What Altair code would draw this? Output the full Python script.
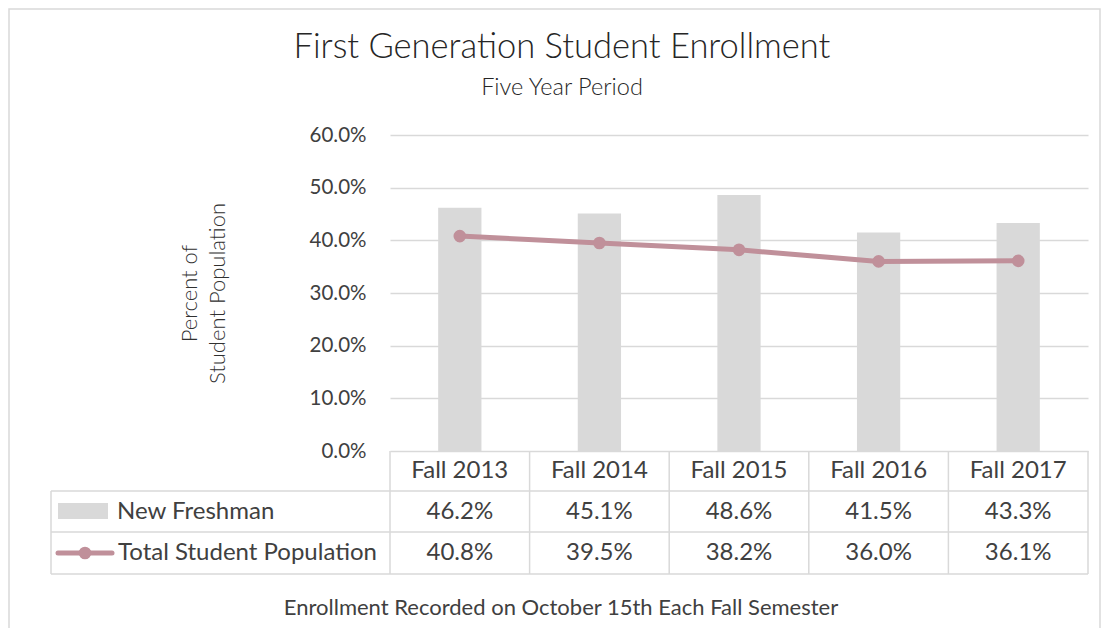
import altair as alt
import pandas as pd

years = ["Fall 2013", "Fall 2014", "Fall 2015", "Fall 2016", "Fall 2017"]
new_freshman = [46.2, 45.1, 48.6, 41.5, 43.3]
total_population = [40.8, 39.5, 38.2, 36.0, 36.1]
y_ticks = [0, 0.1, 0.2, 0.3, 0.4, 0.5, 0.6]

df = pd.DataFrame({
    "Year": years,
    "Freshman": [v / 100 for v in new_freshman],
    "Total": [v / 100 for v in total_population],
    "FreshmanLabel": [f"{v:.1f}%" for v in new_freshman],
    "TotalLabel": [f"{v:.1f}%" for v in total_population],
})
one = pd.DataFrame({"k": [0]})

FONT = "Lato"
TXT = "#404040"
GRID = "#D9D9D9"
BAR = "#D9D9D9"
LINE = "#C0909A"
W, H = 698, 316

x_enc = alt.X("Year:N", sort=years, axis=None,
              scale=alt.Scale(paddingInner=0, paddingOuter=0))

bars = alt.Chart(df).mark_bar(color=BAR, width=alt.RelativeBandSize(0.31)).encode(
    x=x_enc,
    y=alt.Y("Freshman:Q",
            scale=alt.Scale(domain=[0, 0.6], nice=False),
            axis=alt.Axis(values=y_ticks, format=".1%", grid=True, gridColor=GRID,
                          gridWidth=1.5, domain=False, ticks=False, labelPadding=24,
                          labelFontSize=20.5, labelFont=FONT, labelColor=TXT,
                          title=["Percent of", "Student Population"], titleFont=FONT,
                          titleFontSize=22, titleFontWeight=300, titleColor="#303030",
                          titleLineHeight=28, titlePadding=80)),
)

line = alt.Chart(df).mark_line(
    color=LINE, strokeWidth=5,
    point=alt.OverlayMarkDef(color=LINE, filled=True, size=160, opacity=1),
).encode(x=x_enc, y=alt.Y("Total:Q"))

# table grid lines
vlines = alt.Chart(df).mark_rule(color=GRID, strokeWidth=1.5).encode(
    x=alt.X("Year:N", sort=years, bandPosition=0, axis=None),
    y=alt.value(H), y2=alt.value(439),
)
right_line = alt.Chart(one).mark_rule(color=GRID, strokeWidth=1.5).encode(
    x=alt.value(W), y=alt.value(H), y2=alt.value(439))
left_line = alt.Chart(one).mark_rule(color=GRID, strokeWidth=1.5).encode(
    x=alt.value(-339), y=alt.value(356), y2=alt.value(439))
hlines = alt.layer(*[
    alt.Chart(one).mark_rule(color=GRID, strokeWidth=1.5).encode(
        x=alt.value(-339), x2=alt.value(W), y=alt.value(yy))
    for yy in (356, 397, 439)
])

cell = dict(font=FONT, fontSize=24, color=TXT, baseline="middle", align="center")
header = alt.Chart(df).mark_text(**cell).encode(
    x=x_enc, y=alt.value(336), text="Year:N")
row1 = alt.Chart(df).mark_text(**cell).encode(
    x=x_enc, y=alt.value(376.5), text="FreshmanLabel:N")
row2 = alt.Chart(df).mark_text(**cell).encode(
    x=x_enc, y=alt.value(418), text="TotalLabel:N")

# legend keys in the table
key_rect = alt.Chart(one).mark_rect(color=BAR).encode(
    x=alt.value(-332), x2=alt.value(-282), y=alt.value(368), y2=alt.value(384))
key_line = alt.Chart(one).mark_rule(color=LINE, strokeWidth=5, strokeCap="round").encode(
    x=alt.value(-332), x2=alt.value(-278), y=alt.value(418))
key_pt = alt.Chart(one).mark_point(color=LINE, filled=True, size=160, opacity=1).encode(
    x=alt.value(-305), y=alt.value(418))
left = dict(font=FONT, fontSize=24, color=TXT, baseline="middle", align="left")
key_t1 = alt.Chart(one).mark_text(**left, text="New Freshman").encode(
    x=alt.value(-273), y=alt.value(376.5))
key_t2 = alt.Chart(one).mark_text(**left, text="Total Student Population").encode(
    x=alt.value(-272), y=alt.value(418))

footer = alt.Chart(one).mark_text(
    font=FONT, fontSize=22, color=TXT, baseline="middle", align="center",
    text="Enrollment Recorded on October 15th Each Fall Semester").encode(
    x=alt.value(171), y=alt.value(473))

frame = alt.Chart(one).mark_rect(fill=None, stroke=GRID, strokeWidth=1.5).encode(
    x=alt.value(-381), x2=alt.value(710), y=alt.value(-126), y2=alt.value(494))

chart = alt.layer(
    frame, bars, vlines, right_line, left_line, hlines, line, header, row1, row2,
    key_rect, key_line, key_pt, key_t1, key_t2, footer,
).properties(
    width=W, height=H,
    title=alt.TitleParams(
        text="First Generation Student Enrollment",
        subtitle="Five Year Period",
        anchor="middle", frame="group", dx=-177, offset=-92,
        font=FONT, fontSize=34.5, fontWeight=300, color="#262626",
        subtitleFont=FONT, subtitleFontSize=23.5, subtitleFontWeight=300,
        subtitleColor="#262626", subtitlePadding=10,
    ),
    autosize=alt.AutoSizeParams(type="none"),
    padding={"left": 382, "top": 127, "right": 13, "bottom": 177},
).configure_view(stroke=None)

chart.save("out.html", embed_options={"renderer": "svg", "actions": False})
